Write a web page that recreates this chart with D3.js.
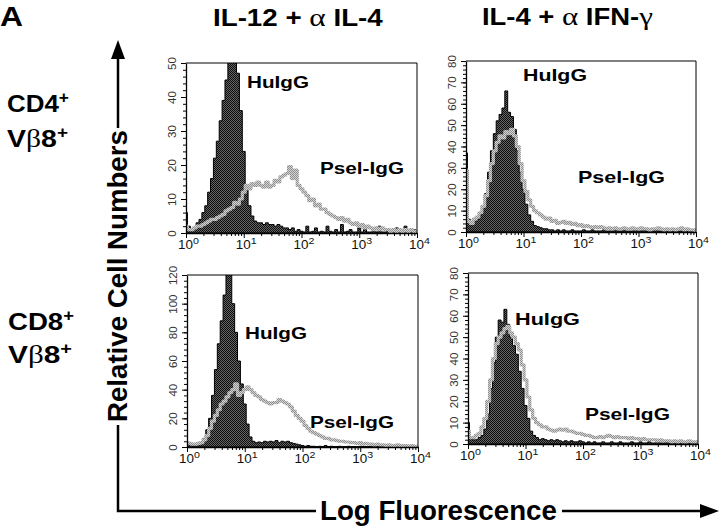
<!DOCTYPE html>
<html>
<head>
<meta charset="utf-8">
<script src="https://cdn.jsdelivr.net/npm/d3@7"></script>
<style>
  body { margin: 0; background: #fff; }
  svg { display: block; }
</style>
</head>
<body>
<svg id="fig" width="720" height="526"></svg>
<script>
// channel grid: 81 bins, 0.05 decade apart, from 10^0 to 10^4
var binLog = d3.range(81).map(function(i) { return i * 0.05; });
var decades = [1, 10, 100, 1000, 10000];
var decadeExp = ["0", "1", "2", "3", "4"];

// y tick labels per panel
var ticks50 = [0, 10, 20, 30, 40, 50];
var ticks80 = [0, 10, 20, 30, 40, 50, 60, 70, 80];
var ticks120 = [0, 20, 40, 60, 80, 100, 120];

// CD4+ Vb8+, IL-12 + anti IL-4
var cd4Il12Hu = [6,2,1,1.5,3,4,6,8,12,16, 22,27,33,39,45,52,58,55,47,36,
  24,14,8,5,3.5,3,3,2.5,3,2.5, 2.5,2,2.5,2,1.5,1.5,1,1.5,0.5,1,
  0.5,0.3,2,0.3,0.5,1.5,0.3,0.5,0.3,2, 0.5,0.3,1,0.3,2.5,0.3,0.5,1,0.3,0.3,
  1.5,0.3,2,0.3,0.3,1,0.3,2,0.3,0.3, 1,0.3,0.3,1.5,0.3,0.3,2,0.3,0.3,1, 0.3];
var cd4Il12Ps = [2,1,1,1.5,2,2,2.5,3,3.5,4, 4,4.5,5,5.5,6.5,7,7.5,9,8.5,10,
  12,14,13,14.5,14,15,14,13.5,15,13.5, 14,15.5,15,16.5,17,17.5,19.5,16,18.5,14,
  13,12,11,9.5,10,8,8.5,7,7,6, 5.5,5,4.5,4,4.5,3.5,4,3,2.5,3,
  2,2.5,1.5,2,1.5,1,1.5,1,1.5,1, 1,0.5,1,0.5,1,0.5,1,0.5,1,0.5, 0.5];

// CD4+ Vb8+, IL-4 + anti IFN-g
var cd4Il4Hu = [37,6,4,5,6,8,12,18,28,38, 46,52,55,58,66,56,54,48,38,28,
  20,13,8,5,3,2.5,2,1.5,1.5,1, 1,0.5,1,0.5,1,0.5,0.5,1,0.5,0.5,
  0.5,1,0.5,0.5,1,0.5,0.5,0.5,1,0.5, 0.5,0.5,1,0.5,0.5,1,0.5,0.5,0.5,1,
  0.5,0.5,1,0.5,0.5,0.5,1,0.5,0.5,1, 0.5,0.5,0.5,1,0.5,0.5,0.5,1,0.5,0.5, 0.5];
var cd4Il4Ps = [29,5,4,6,7,9,12,17,24,32, 38,42,45,44,47,46,48,45,40,32,
  24,19,15,12,10,9,8,7,6,6.5, 5,5.5,4,4.5,5,4,4.5,3.5,4,3,
  3.5,2.5,3,2.5,2,2.5,2,2.5,2,1.5, 2,1.5,2,1.5,1.5,2,1.5,1.5,2,1.5,
  1.5,2,1.5,1.5,1,1.5,1.5,2,1.5,1, 1.5,1,1.5,1,1.5,2,1,1.5,1,1, 0.5];

// CD8+ Vb8+, IL-12 + anti IL-4
var cd8Il12Hu = [2,2,1.5,2,2.5,3,6,12,20,36, 54,72,88,106,124,122,100,80,60,44,
  30,16,7,4,3,3.5,3,4,3.5,4, 3.5,4.5,3,4,3.5,4,3,2.5,2,1.5,
  1,0.5,1,0.5,0.5,0.3,0.5,0.3,1,0.3, 0.5,0.3,0.3,0.5,0.3,0.3,0.5,0.3,0.3,0.3,
  0.5,0.3,0.3,0.3,0.5,0.3,0.3,0.3,0.3,0.5, 0.3,0.3,0.3,0.3,0.3,0.5,0.3,0.3,0.3,0.3, 0.3];
var cd8Il12Ps = [3,2.5,2,2,2.5,3,5,8,13,18, 22,26,30,32,35,38,40,44,36,38,
  40,42,40,38,36,35,33,32,31,30, 31,31,33,32,31,30,28,25,22,20,
  18,15,13,11,10,9,8,7,6,6, 5,5,4.5,4,4,3.5,3.5,3,3,2.5,
  3,2,2.5,2,2,1.5,2,1.5,1.5,1, 1.5,1,1,1.5,1,1,1,0.5,1,0.5, 0.5];

// CD8+ Vb8+, IL-4 + anti IFN-g
var cd8Il4Hu = [10,3,2,2,3,4,7,14,26,38, 50,58,57,63,56,50,46,42,34,26,
  18,12,6,4,3,2,2.5,2,1.5,2, 1.5,2,1.5,1,1.5,1,1.5,1,1,1.5,
  1,0.5,1,0.5,1,0.5,0.5,1,0.5,0.5, 1,0.5,0.5,1,0.5,0.5,0.5,1,0.5,0.5,
  1,0.5,0.5,1,0.5,0.5,2,0.5,0.5,1, 0.5,0.5,0.5,1,0.5,0.5,0.5,0.5,1,0.5, 0.5];
var cd8Il4Ps = [6,3,3,4,5,8,12,20,30,40, 47,50,52,54,55,52,50,47,44,37,
  30,22,16,12,10,9,8,8,7,6.5, 6,6.5,7,6.5,7,6,6,5.5,5,5,
  4.5,4,4,3.5,3,3,3.5,3,3.5,4, 3.5,3,3.5,3,3,3,2.5,3,2.5,2.5,
  2,2.5,2,2,2,2,1.5,2,1.5,1.5, 1.5,1,1.5,1,1.5,1,1,1.5,1,1, 1];

var SANS = "'Liberation Sans', Arial, Helvetica, sans-serif";
var SERIF = "'Liberation Serif', 'DejaVu Serif', serif";

// layout of the four panels
var panels = [
  {hu: cd4Il12Hu, ps: cd4Il12Ps, ticks: ticks50, minor: 2,
   x0: 186, x1: 417, yb: 233, yt: 63, huAt: [247, 88, 62], psAt: [320, 174, 84]},
  {hu: cd4Il4Hu, ps: cd4Il4Ps, ticks: ticks80, minor: 2,
   x0: 466, x1: 696, yb: 232, yt: 61, huAt: [523, 81, 64], psAt: [578, 183, 87]},
  {hu: cd8Il12Hu, ps: cd8Il12Ps, ticks: ticks120, minor: 4,
   x0: 187, x1: 418, yb: 447, yt: 275, huAt: [245, 339, 62], psAt: [310, 428, 84]},
  {hu: cd8Il4Hu, ps: cd8Il4Ps, ticks: ticks80, minor: 2,
   x0: 468, x1: 698, yb: 444, yt: 273, huAt: [515, 325, 65], psAt: [585, 420, 85]}
];

var svg = d3.select("#fig");
var defs = svg.append("defs");

// halftone look for the filled histogram
var dark = defs.append("pattern").attr("id", "dark")
  .attr("width", 2).attr("height", 2).attr("patternUnits", "userSpaceOnUse");
dark.append("rect").attr("width", 2).attr("height", 2).attr("fill", "#666");
dark.append("rect").attr("width", 1).attr("height", 1).attr("fill", "#0d0d0d");
dark.append("rect").attr("x", 1).attr("y", 1).attr("width", 1).attr("height", 1).attr("fill", "#0d0d0d");

var gray = defs.append("pattern").attr("id", "gray")
  .attr("width", 2).attr("height", 2).attr("patternUnits", "userSpaceOnUse");
gray.append("rect").attr("width", 2).attr("height", 2).attr("fill", "#d4d4d4");
gray.append("rect").attr("width", 1).attr("height", 1).attr("fill", "#8e8e8e");
gray.append("rect").attr("x", 1).attr("y", 1).attr("width", 1).attr("height", 1).attr("fill", "#8e8e8e");

// draws a text and stretches it horizontally to the wanted width
function fitText(parent, x, y, w, build, rotate) {
  var t = parent.append("text").attr("x", 0).attr("y", 0);
  build(t);
  var bw = t.node().getBBox().width;
  t.attr("transform", "translate(" + x + "," + y + ")" +
    (rotate ? " rotate(-90)" : "") + " scale(" + (w / bw) + ",1)");
  return t;
}
function bold(size) {
  return function(t) {
    t.style("font-family", SANS).style("font-weight", "bold").style("font-size", size + "px");
  };
}

panels.forEach(function(p, k) {
  var yMax = p.ticks[p.ticks.length - 1];
  var x = d3.scaleLog().domain([1, 1e4]).range([p.x0, p.x1]);
  var y = d3.scaleLinear().domain([0, yMax]).range([p.yb, p.yt]);
  var g = svg.append("g");

  defs.append("clipPath").attr("id", "clip" + k).append("rect")
    .attr("x", p.x0).attr("y", p.yt).attr("width", p.x1 - p.x0).attr("height", p.yb - p.yt);
  var plot = g.append("g").attr("clip-path", "url(#clip" + k + ")");

  var bx = function(d, i) { return x(Math.pow(10, binLog[i])); };
  var area = d3.area().curve(d3.curveStep).x(bx).y0(y(0)).y1(function(d) { return y(d); });
  var line = d3.line().curve(d3.curveStep).x(bx).y(function(d) { return y(d); });

  plot.append("path").datum(p.hu).attr("d", area)
    .attr("fill", "url(#dark)").attr("stroke", "#000").attr("stroke-width", 1);
  plot.append("path").datum(p.ps).attr("d", line)
    .attr("fill", "none").attr("stroke", "url(#gray)").attr("stroke-width", 3.2)
    .attr("stroke-linejoin", "round");

  // frame top and right
  g.append("path")
    .attr("d", "M" + p.x0 + "," + p.yt + "H" + p.x1 + "V" + p.yb)
    .attr("fill", "none").attr("stroke", "#000").attr("stroke-width", 1);

  // y axis
  var ya = g.append("g").attr("transform", "translate(" + p.x0 + ",0)")
    .call(d3.axisLeft(y).tickValues(p.ticks).tickSize(5).tickSizeOuter(0).tickFormat(""));
  ya.select(".domain").attr("stroke-width", 1.3);
  ya.selectAll(".tick").append("text")
    .attr("transform", "translate(-10,0) rotate(-90)")
    .attr("text-anchor", "middle").attr("fill", "#333")
    .style("font-family", SANS).style("font-size", "11.5px")
    .text(function(d) { return d; });
  g.append("g").attr("transform", "translate(" + p.x0 + ",0)")
    .call(d3.axisLeft(y).tickValues(d3.range(0, yMax + 0.01, p.minor)).tickSize(3).tickFormat(""))
    .select(".domain").remove();

  // x axis
  var minors = [];
  decades.slice(0, 4).forEach(function(d) {
    for (var m = 2; m < 10; m++) minors.push(d * m);
  });
  var xa = g.append("g").attr("transform", "translate(0," + p.yb + ")")
    .call(d3.axisBottom(x).tickValues(decades).tickSize(5).tickSizeOuter(0).tickFormat(""));
  xa.select(".domain").attr("stroke-width", 1.3);
  xa.selectAll(".tick").append("text")
    .attr("transform", "translate(2,15.5) scale(1.12,1)")
    .attr("text-anchor", "middle").attr("fill", "#111")
    .style("font-family", SANS).style("font-size", "12px")
    .each(function(d, i) {
      var t = d3.select(this);
      t.append("tspan").text("10");
      t.append("tspan").attr("dy", -5).style("font-size", "9.5px").text(decadeExp[i]);
    });
  g.append("g").attr("transform", "translate(0," + p.yb + ")")
    .call(d3.axisBottom(x).tickValues(minors).tickSize(3).tickFormat(""))
    .select(".domain").remove();

  // curve labels
  fitText(g, p.huAt[0], p.huAt[1], p.huAt[2], function(t) { bold(16.5)(t); t.text("HuIgG"); });
  fitText(g, p.psAt[0], p.psAt[1], p.psAt[2], function(t) { bold(16.5)(t); t.text("Psel-IgG"); });
});

// panel letter and column titles
fitText(svg, 0, 26, 23, function(t) { bold(27)(t); t.text("A"); });
fitText(svg, 213, 26, 170, function(t) {
  bold(23)(t);
  t.append("tspan").text("IL-12 + ");
  t.append("tspan").style("font-family", SERIF).style("font-weight", "normal").style("font-size", "26px").text("\u03b1");
  t.append("tspan").text(" IL-4");
});
fitText(svg, 482, 25, 171, function(t) {
  bold(23)(t);
  t.append("tspan").text("IL-4 + ");
  t.append("tspan").style("font-family", SERIF).style("font-weight", "normal").style("font-size", "26px").text("\u03b1");
  t.append("tspan").text(" IFN-");
  t.append("tspan").style("font-family", SERIF).style("font-weight", "normal").style("font-size", "26px").text("\u03b3");
});

// row labels
function cdLabel(text) {
  return function(t) {
    bold(24)(t);
    t.append("tspan").text(text);
    t.append("tspan").attr("dy", -9).style("font-size", "16px").text("+");
  };
}
function vbLabel(t) {
  bold(24)(t);
  t.append("tspan").text("V");
  t.append("tspan").style("font-family", SERIF).style("font-weight", "normal").style("font-size", "25px").text("\u03b2");
  t.append("tspan").text("8");
  t.append("tspan").attr("dy", -9).style("font-size", "16px").text("+");
}
fitText(svg, 7, 112, 62, cdLabel("CD4"));
fitText(svg, 7, 147, 61, vbLabel);
fitText(svg, 8, 330, 66, cdLabel("CD8"));
fitText(svg, 8, 363, 64, vbLabel);

// axis titles with arrows
var ax = svg.append("g").attr("stroke", "#000").attr("stroke-width", 2.5).attr("fill", "none");
ax.append("path").attr("d", "M118,56V128 M118,425V511H316 M562,511H703");
svg.append("path").attr("d", "M118,40L111,59L125,59Z").attr("fill", "#000");
svg.append("path").attr("d", "M719,511L700,504L700,518Z").attr("fill", "#000");

fitText(svg, 127, 422, 292, function(t) { bold(27)(t); t.text("Relative Cell Numbers"); }, true);
fitText(svg, 320, 520, 237, function(t) { bold(27)(t); t.text("Log Fluorescence"); });
</script>
</body>
</html>
